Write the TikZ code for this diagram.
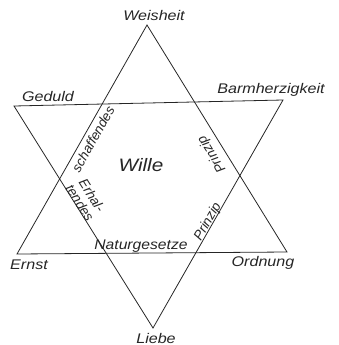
\documentclass[tikz,border=0pt]{standalone}
\usepackage{fontspec}
\setmainfont{Liberation Sans}
\begin{document}
\begin{tikzpicture}[x=1pt,y=-1pt,
  edge/.style={line width=0.8pt,draw=black!85,line join=miter},
  lbl/.style={inner sep=0pt,font=\fontsize{14}{15}\selectfont\itshape,text=black!85,xscale=1.15},
  small/.style={inner sep=0pt,font=\fontsize{13.5}{14}\selectfont\itshape,text=black!85}]
\useasboundingbox (0,0) rectangle (339,345);
% corners
\coordinate (W) at (147,25);
\coordinate (E) at (17,254);
\coordinate (O) at (287,252);
\coordinate (G) at (14,106);
\coordinate (B) at (283,100);
\coordinate (L) at (153,328);
% triangles
\draw[edge] (W) -- (E) -- (O) -- cycle;
\draw[edge] (G) -- (B) -- (L) -- cycle;
% corner labels
\node[lbl] (tW) at (154,15) {Weisheit};
\node[lbl] (tG) at (48,96) {Geduld};
\node[lbl] (tB) at (271,90) {Barmherzigkeit};
\node[lbl] (tE) at (29,265) {Ernst};
\node[lbl] (tO) at (263,263) {Ordnung};
\node[lbl] (tL) at (156,338) {Liebe};
% inner labels
\node[lbl,font=\fontsize{18}{20}\selectfont\itshape] (tWi) at (141,165) {Wille};
\node[small,font=\fontsize{14}{15}\selectfont\itshape,xscale=1.12] (tN) at (141,246) {Naturgesetze};
\node[small,rotate=60.5] (tS) at (93,139) {schaffendes};
\node[small,rotate=-57.8,align=center] (tEr) at (86,199) {Erhal-\\tendes};
\node[small,rotate=121.7] (tP1) at (212,154) {Prinzip};
\node[small,rotate=60.3] (tP2) at (208,222) {Prinzip};
\end{tikzpicture}
\end{document}
